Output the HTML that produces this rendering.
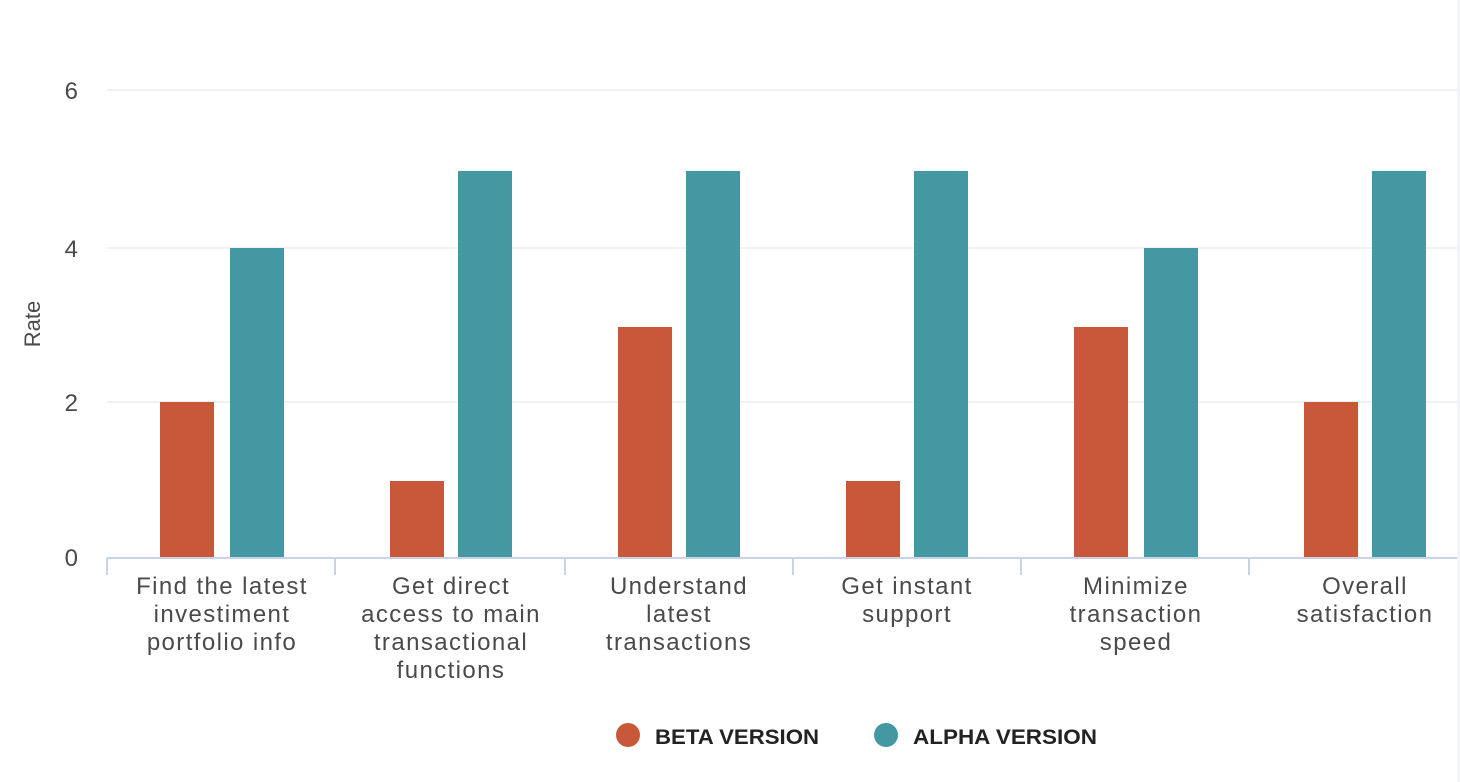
<!DOCTYPE html>
<html><head><meta charset="utf-8"><style>
html,body{margin:0;padding:0;background:#fff;}
svg{display:block;font-family:"Liberation Sans",sans-serif;}
</style></head><body>
<svg width="1460" height="782" viewBox="0 0 1460 782">
<rect width="1460" height="782" fill="#fff"/>
<rect x="1457" y="0" width="3" height="782" fill="#f3f4f7"/>
<g stroke="#e3e3e3" stroke-width="1">
<line x1="107" y1="90" x2="1457" y2="90"/>
<line x1="107" y1="248" x2="1457" y2="248"/>
<line x1="107" y1="402" x2="1457" y2="402"/>
</g>
<g fill="#4a4a4a" font-size="24" text-anchor="end">
<text x="78" y="99">6</text>
<text x="78" y="257">4</text>
<text x="78" y="411">2</text>
<text x="78" y="566">0</text>
</g>
<text transform="translate(40,324) rotate(-90)" fill="#4a4a4a" font-size="22" text-anchor="middle">Rate</text>
<g fill="#c9573a">
<rect x="160" y="402" width="54" height="156"/>
<rect x="390" y="481" width="54" height="77"/>
<rect x="618" y="327" width="54" height="231"/>
<rect x="846" y="481" width="54" height="77"/>
<rect x="1074" y="327" width="54" height="231"/>
<rect x="1304" y="402" width="54" height="156"/>
</g>
<g fill="#4398a2">
<rect x="230" y="248" width="54" height="310"/>
<rect x="458" y="171" width="54" height="387"/>
<rect x="686" y="171" width="54" height="387"/>
<rect x="914" y="171" width="54" height="387"/>
<rect x="1144" y="248" width="54" height="310"/>
<rect x="1372" y="171" width="54" height="387"/>
</g>
<g stroke="#c9d3e6" stroke-width="2">
<line x1="107" y1="558" x2="1457" y2="558"/>
<line x1="107" y1="558" x2="107" y2="575"/>
<line x1="335" y1="558" x2="335" y2="575"/>
<line x1="565" y1="558" x2="565" y2="575"/>
<line x1="793" y1="558" x2="793" y2="575"/>
<line x1="1021" y1="558" x2="1021" y2="575"/>
<line x1="1249" y1="558" x2="1249" y2="575"/>
</g>
<g fill="#4a4a4a" font-size="24" text-anchor="middle" letter-spacing="1.4">
<text x="222" y="594">Find the latest</text>
<text x="222" y="622">investiment</text>
<text x="222" y="650">portfolio info</text>
<text x="451" y="594">Get direct</text>
<text x="451" y="622">access to main</text>
<text x="451" y="650">transactional</text>
<text x="451" y="678">functions</text>
<text x="679" y="594">Understand</text>
<text x="679" y="622">latest</text>
<text x="679" y="650">transactions</text>
<text x="907" y="594">Get instant</text>
<text x="907" y="622">support</text>
<text x="1136" y="594">Minimize</text>
<text x="1136" y="622">transaction</text>
<text x="1136" y="650">speed</text>
<text x="1365" y="594">Overall</text>
<text x="1365" y="622">satisfaction</text>
</g>
<circle cx="628" cy="735" r="12" fill="#c9573a"/>
<circle cx="886" cy="735" r="12" fill="#4398a2"/>
<g fill="#222" font-size="21" font-weight="bold">
<text x="655" y="744" textLength="164" lengthAdjust="spacingAndGlyphs">BETA VERSION</text>
<text x="913" y="744" textLength="184" lengthAdjust="spacingAndGlyphs">ALPHA VERSION</text>
</g>
</svg>
</body></html>
